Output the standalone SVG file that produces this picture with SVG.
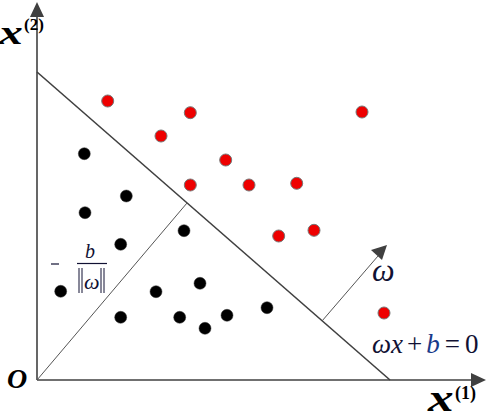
<svg xmlns="http://www.w3.org/2000/svg" width="486" height="419" viewBox="0 0 486 419">
<defs>
<style>
.ax{stroke:#404040;stroke-width:1.6;fill:none}
.hp{stroke:#404040;stroke-width:1.6;fill:none}
.th{stroke:#555;stroke-width:1;fill:none}
.r{fill:#ee0000;stroke:#777;stroke-width:1}
.k{fill:#000;stroke:#333;stroke-width:0.5}
.t{font-family:"Liberation Serif",serif}
.lb{font-weight:bold;font-style:italic;fill:#000}
.sp{font-weight:bold;fill:#000}
.m{font-style:italic;fill:#111133}
.mu{font-style:normal;fill:#111133}
</style>
</defs>
<g id="connectors">
<line class="ax" x1="37" y1="380" x2="37" y2="16"/>
<path d="M30,17L37,2L44,17z" fill="#404040"/>
<line class="ax" x1="37" y1="380" x2="472" y2="380"/>
<path d="M471,373L486,380L471,387z" fill="#404040"/>
<line class="hp" x1="37" y1="72" x2="390" y2="380"/>
<line class="th" x1="37" y1="380" x2="187" y2="203"/>
<line class="th" x1="322" y1="321" x2="378" y2="256"/>
<path d="M371,250L387,245L382,260z" fill="#404040"/>
</g>
<g id="red-points">
<circle class="r" cx="107.7" cy="101" r="6"/>
<circle class="r" cx="190.3" cy="112.7" r="6"/>
<circle class="r" cx="161" cy="136" r="6"/>
<circle class="r" cx="225.7" cy="160" r="6"/>
<circle class="r" cx="190.3" cy="185" r="6"/>
<circle class="r" cx="249" cy="185" r="6"/>
<circle class="r" cx="296.7" cy="183.3" r="6"/>
<circle class="r" cx="278.7" cy="236" r="6"/>
<circle class="r" cx="314" cy="230.3" r="6"/>
<circle class="r" cx="362" cy="112" r="6"/>
<circle class="r" cx="384" cy="313" r="6"/>
</g>
<g id="black-points">
<circle class="k" cx="84.3" cy="153.7" r="6"/>
<circle class="k" cx="126.3" cy="196" r="6"/>
<circle class="k" cx="85" cy="212.7" r="6"/>
<circle class="k" cx="120.7" cy="244.3" r="6"/>
<circle class="k" cx="184" cy="230.7" r="6"/>
<circle class="k" cx="60.7" cy="291.3" r="6"/>
<circle class="k" cx="156" cy="291.7" r="6"/>
<circle class="k" cx="200" cy="283.3" r="6"/>
<circle class="k" cx="120.7" cy="317.3" r="6"/>
<circle class="k" cx="179.7" cy="317.3" r="6"/>
<circle class="k" cx="227" cy="315.3" r="6"/>
<circle class="k" cx="205" cy="328.3" r="6"/>
<circle class="k" cx="267" cy="307.7" r="6"/>
</g>
<g id="label-x2">
<text class="t lb" x="0" y="0" font-size="34" transform="translate(-1,44) scale(1.4,1)">x</text>
<text class="t sp" x="24" y="30" font-size="17">(2)</text>
</g>
<g id="label-x1">
<text class="t lb" x="0" y="0" font-size="38" transform="translate(428,411) scale(1.35,1)">x</text>
<text class="t sp" x="455" y="399" font-size="18">(1)</text>
</g>
<g id="label-origin">
<text class="t lb" x="7" y="388" font-size="28">O</text>
</g>
<g id="label-omega">
<text class="t m" x="372" y="281" font-size="32">ω</text>
</g>
<g id="label-hyperplane">
<text class="t m" x="372" y="353" font-size="27">ω<tspan>x</tspan><tspan class="mu" fill="#1a3a8a" dx="4">+</tspan><tspan fill="#1a3a8a" dx="4">b</tspan><tspan class="mu" dx="5">=</tspan><tspan class="mu" dx="5">0</tspan></text>
</g>
<g id="label-distance">
<line x1="51" y1="264" x2="59" y2="264" stroke="#111133" stroke-width="1.2"/>
<text class="t m" x="85" y="258" font-size="20" fill="#1a3a8a">b</text>
<line x1="77" y1="263.5" x2="107" y2="263.5" stroke="#111133" stroke-width="1.2"/>
<line x1="79" y1="268" x2="79" y2="293" stroke="#111133" stroke-width="1"/>
<line x1="82" y1="268" x2="82" y2="293" stroke="#111133" stroke-width="1"/>
<text class="t m" x="84" y="289" font-size="22">ω</text>
<line x1="101" y1="268" x2="101" y2="293" stroke="#111133" stroke-width="1"/>
<line x1="104" y1="268" x2="104" y2="293" stroke="#111133" stroke-width="1"/>
</g>
</svg>
